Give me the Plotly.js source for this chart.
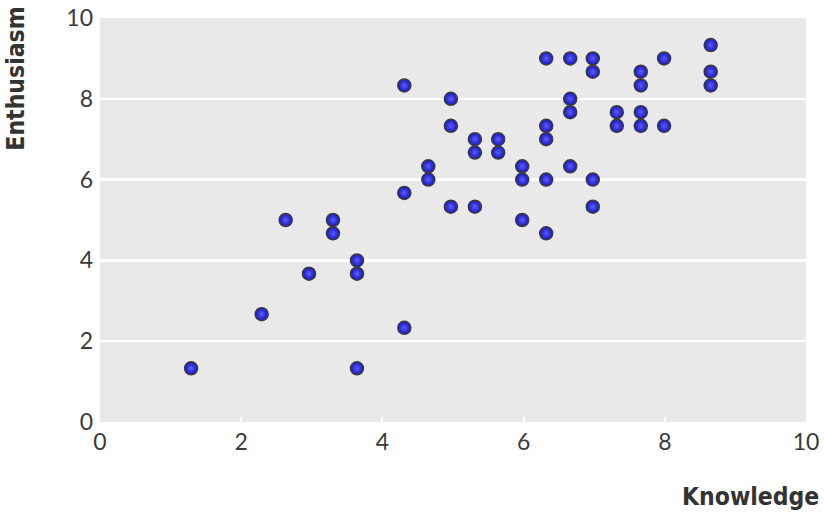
<!DOCTYPE html>
<html>
<head>
<meta charset="utf-8">
<script src="https://cdn.plot.ly/plotly-3.0.1.min.js"></script>
<style>html,body{margin:0;padding:0;background:#fff;}#chart{width:824px;height:512px;}</style>
</head>
<body>
<div id="chart"></div>
<script>
const knowledge = [1.29, 2.29, 2.63, 2.96, 3.30, 3.30, 3.64, 3.64, 3.64,
  4.31, 4.31, 4.31, 4.65, 4.65, 4.97, 4.97, 4.97, 5.31, 5.31, 5.31, 5.64, 5.64,
  5.98, 5.98, 5.98, 6.32, 6.32, 6.32, 6.32, 6.32, 6.66, 6.66, 6.66, 6.66,
  6.98, 6.98, 6.98, 6.98, 7.32, 7.32, 7.66, 7.66, 7.66, 7.66, 7.99, 7.99, 8.65, 8.65, 8.65];
const enthusiasm = [1.33, 2.67, 5, 3.67, 5, 4.67, 4, 3.67, 1.33,
  2.33, 5.67, 8.33, 6.33, 6, 8, 7.33, 5.33, 7, 6.67, 5.33, 7, 6.67,
  6.33, 6, 5, 9, 7.33, 7, 6, 4.67, 9, 8, 7.67, 6.33,
  9, 8.67, 6, 5.33, 7.67, 7.33, 8.67, 8.33, 7.67, 7.33, 9, 7.33, 9.33, 8.67, 8.33];
const tickVals = [0, 2, 4, 6, 8, 10];
const xTitle = "Knowledge";
const yTitle = "Enthusiasm";

const tickFont = {family: "Lato, 'Open Sans', sans-serif", size: 23, color: "#3a3a3a"};
const titleFont = {family: "'DejaVu Sans Condensed', 'DejaVu Sans', sans-serif", size: 24.5, color: "#333333", weight: 700};

Plotly.newPlot("chart", [{
  x: knowledge, y: enthusiasm, type: "scatter", mode: "markers",
  marker: {size: 13, color: "#1414c4", gradient: {type: "radial", color: "#5c5cff"},
           line: {color: "#3c3c3c", width: 1.5}},
  hoverinfo: "skip"
}], {
  width: 824, height: 512,
  margin: {l: 100, r: 18, t: 18, b: 90},
  paper_bgcolor: "#ffffff", plot_bgcolor: "#e9e9e9",
  showlegend: false,
  xaxis: {range: [0, 10], tickvals: tickVals, showgrid: false, zeroline: false,
          showline: false, ticks: "inside", ticklen: 5, tickwidth: 2, tickcolor: "#ffffff",
          tickfont: tickFont, ticklabelstandoff: 4, fixedrange: true},
  yaxis: {range: [0, 10], tickvals: tickVals, showgrid: true, gridcolor: "#ffffff", gridwidth: 2.5,
          zeroline: false, showline: false, ticks: "", tickfont: tickFont, ticklabelstandoff: 6,
          fixedrange: true},
  annotations: [
    {text: xTitle, xref: "paper", yref: "paper", x: 1.021, y: -0.185, xanchor: "right", yanchor: "middle",
     showarrow: false, font: titleFont},
    {text: yTitle, xref: "paper", yref: "paper", x: -0.121, y: 1.032, xanchor: "center", yanchor: "top",
     textangle: -90, showarrow: false, font: titleFont}
  ]
}, {displayModeBar: false, staticPlot: true});
</script>
</body>
</html>
